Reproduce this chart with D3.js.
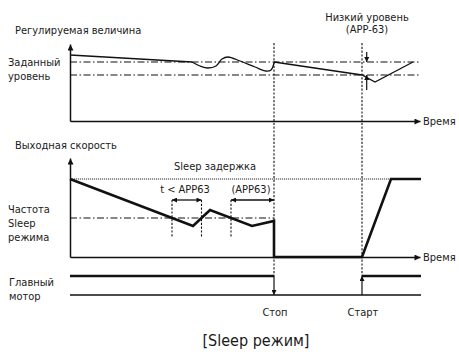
<!DOCTYPE html>
<html>
<head>
<meta charset="utf-8">
<script src="https://cdn.jsdelivr.net/npm/d3@7"></script>
<style>
  html, body { margin: 0; padding: 0; background: #fff; }
  svg text {
    font-family: "Liberation Sans Narrow", "DejaVu Sans Condensed", "Roboto", sans-serif;
    font-stretch: condensed;
    fill: #1a1a1a;
  }
</style>
</head>
<body>
<svg id="chart" width="459" height="355"></svg>
<script>
// ---- Data (time on a common 0..350 axis) ----
const timeDomain = [0, 350];
const stopTime = 204;   // motor stops
const startTime = 292;  // motor restarts

// Regulated value
const setLevel = 59;    // set point
const lowLevel = 46;    // low level (APP-63)
const regStart = [[0, 66], [122, 59]];
const regWave = [[122, 59], [130, 55], [138, 53], [146, 55], [152, 62], [158, 64],
                 [170, 60], [185, 54], [196, 50], [201, 51], [204, 58]];
const regEnd = [[204, 59], [292, 46], [305, 39], [343, 59]];

// Output speed
const maxSpeed = 78;
const sleepFreq = 39;
const speed = [[0, 78], [123, 31], [140, 47], [182, 31], [204, 36], [204, 0],
               [292, 0], [321, 78], [351, 78]];
const delay1 = [102, 131.5];   // t < APP63
const delay2 = [161, 204];     // (APP63)

// Main motor state
const motorOn = [[0, stopTime], [startTime, 351]];

// ---- Scales ----
const svg = d3.select("#chart");
const x = d3.scaleLinear().domain(timeDomain).range([70, 420]);
const yTop = d3.scaleLinear().domain([0, 76]).range([121, 45]);
const yMid = d3.scaleLinear().domain([0, 100]).range([257, 157]);
const yMotor = d3.scaleLinear().domain([0, 1]).range([295, 276]);

// Arrowhead markers
const defs = svg.append("defs");
defs.append("marker")
  .attr("id", "arrow")
  .attr("viewBox", "0 0 10 10")
  .attr("refX", 10).attr("refY", 5)
  .attr("markerUnits", "userSpaceOnUse")
  .attr("markerWidth", 8).attr("markerHeight", 6)
  .attr("orient", "auto-start-reverse")
  .append("path").attr("d", "M0,0L10,5L0,10z").attr("fill", "#111");
defs.append("marker")
  .attr("id", "arrowS")
  .attr("viewBox", "0 0 10 10")
  .attr("refX", 10).attr("refY", 5)
  .attr("markerUnits", "userSpaceOnUse")
  .attr("markerWidth", 6).attr("markerHeight", 5)
  .attr("orient", "auto-start-reverse")
  .append("path").attr("d", "M0,0L10,5L0,10z").attr("fill", "#111");

const DASHDOT = "7,2.5,1.5,2.5";
const DASH = "2.2,1.6";

// ---- Axes with arrows ----
function drawAxes(yScale, yAxisTop) {
  const gx = svg.append("g").attr("transform", `translate(0,${yScale.range()[0]})`)
    .call(d3.axisBottom(x).tickValues([]).tickSizeOuter(0));
  gx.select(".domain").attr("stroke", "#111").attr("stroke-width", 1.5)
    .attr("marker-end", "url(#arrow)");
  const gy = svg.append("g").attr("transform", `translate(${x(0)},0)`)
    .call(d3.axisLeft(d3.scaleLinear().range([yScale.range()[0], yAxisTop])).tickValues([]).tickSizeOuter(0));
  gy.select(".domain").attr("stroke", "#111").attr("stroke-width", 1.5)
    .attr("marker-end", "url(#arrow)");
}
drawAxes(yTop, 44);
drawAxes(yMid, 158);

// ---- Vertical dashed event lines ----
[stopTime, startTime].forEach(t => {
  svg.append("line")
    .attr("x1", x(t)).attr("x2", x(t))
    .attr("y1", 43).attr("y2", yMotor(1))
    .attr("stroke", "#111").attr("stroke-width", 1.1)
    .attr("stroke-dasharray", DASH);
});

// ---- Top panel: regulated value ----
[setLevel, lowLevel].forEach(v => {
  svg.append("line")
    .attr("x1", x(0)).attr("x2", x(349))
    .attr("y1", yTop(v)).attr("y2", yTop(v))
    .attr("stroke", "#111").attr("stroke-width", 1.1)
    .attr("stroke-dasharray", DASHDOT);
});
const lineTop = d3.line().x(d => x(d[0])).y(d => yTop(d[1]));
svg.append("path").datum(regStart).attr("d", lineTop)
  .attr("fill", "none").attr("stroke", "#111").attr("stroke-width", 1.3);
svg.append("path").datum(regWave).attr("d", lineTop.curve(d3.curveCatmullRom.alpha(0.5)))
  .attr("fill", "none").attr("stroke", "#111").attr("stroke-width", 1.3);
svg.append("path").datum(regEnd).attr("d", d3.line().x(d => x(d[0])).y(d => yTop(d[1])))
  .attr("fill", "none").attr("stroke", "#111").attr("stroke-width", 1.3);

// Low-level dimension marker
const mx = x(296.7);
svg.append("line").attr("x1", mx).attr("x2", mx).attr("y1", 52).attr("y2", yTop(setLevel))
  .attr("stroke", "#111").attr("stroke-width", 1.2).attr("marker-end", "url(#arrowS)");
svg.append("line").attr("x1", mx).attr("x2", mx).attr("y1", 90).attr("y2", yTop(lowLevel))
  .attr("stroke", "#111").attr("stroke-width", 1.2).attr("marker-end", "url(#arrowS)");

// ---- Middle panel: output speed ----
svg.append("line")
  .attr("x1", x(0)).attr("x2", x(321))
  .attr("y1", yMid(maxSpeed)).attr("y2", yMid(maxSpeed))
  .attr("stroke", "#333").attr("stroke-width", 1)
  .attr("stroke-dasharray", "1.2,0.8");
svg.append("line")
  .attr("x1", x(0)).attr("x2", x(stopTime))
  .attr("y1", yMid(sleepFreq)).attr("y2", yMid(sleepFreq))
  .attr("stroke", "#111").attr("stroke-width", 1.1)
  .attr("stroke-dasharray", DASHDOT);

// delay windows
[delay1, delay2].forEach(d => {
  const y0 = yMid(57);
  d.forEach(t => {
    if (t === stopTime) return;
    svg.append("line").attr("x1", x(t)).attr("x2", x(t))
      .attr("y1", y0).attr("y2", yMid(20))
      .attr("stroke", "#111").attr("stroke-width", 1.1).attr("stroke-dasharray", DASH);
  });
  svg.append("line").attr("x1", x(d[0])).attr("x2", x(d[1]))
    .attr("y1", y0).attr("y2", y0)
    .attr("stroke", "#111").attr("stroke-width", 1.3)
    .attr("marker-start", "url(#arrowS)").attr("marker-end", "url(#arrowS)");
});

svg.append("path").datum(speed)
  .attr("d", d3.line().x(d => x(d[0])).y(d => yMid(d[1])))
  .attr("fill", "none").attr("stroke", "#111").attr("stroke-width", 2.6)
  .attr("stroke-linejoin", "miter");

// ---- Bottom panel: main motor ----
svg.append("line").attr("x1", x(0)).attr("x2", x(351))
  .attr("y1", yMotor(0)).attr("y2", yMotor(0))
  .attr("stroke", "#111").attr("stroke-width", 1.5);
motorOn.forEach(seg => {
  svg.append("line").attr("x1", x(seg[0])).attr("x2", x(seg[1]))
    .attr("y1", yMotor(1)).attr("y2", yMotor(1))
    .attr("stroke", "#111").attr("stroke-width", 2.6);
});
svg.append("line").attr("x1", x(stopTime)).attr("x2", x(stopTime))
  .attr("y1", yMotor(1)).attr("y2", yMotor(0))
  .attr("stroke", "#111").attr("stroke-width", 1.2).attr("marker-end", "url(#arrowS)");
svg.append("line").attr("x1", x(startTime)).attr("x2", x(startTime))
  .attr("y1", yMotor(0)).attr("y2", yMotor(1))
  .attr("stroke", "#111").attr("stroke-width", 1.2).attr("marker-end", "url(#arrowS)");

// ---- Text ----
const labels = [
  { t: "Регулируемая величина", x: 15, y: 34, s: 11 },
  { t: "Заданный", x: 8, y: 66, s: 11 },
  { t: "уровень", x: 8, y: 80, s: 11 },
  { t: "Низкий уровень", x: 367, y: 21, s: 11, a: "middle" },
  { t: "(APP-63)", x: 367, y: 33, s: 11, a: "middle" },
  { t: "Время", x: 423, y: 125, s: 11 },
  { t: "Выходная скорость", x: 15, y: 149, s: 11 },
  { t: "Sleep задержка", x: 174, y: 170, s: 11 },
  { t: "t < APP63", x: 185, y: 193, s: 11, a: "middle" },
  { t: "(APP63)", x: 251, y: 193, s: 11, a: "middle" },
  { t: "Частота", x: 8, y: 213, s: 11 },
  { t: "Sleep", x: 8, y: 227, s: 11 },
  { t: "режима", x: 8, y: 241, s: 11 },
  { t: "Время", x: 423, y: 261, s: 11 },
  { t: "Главный", x: 9, y: 286, s: 11 },
  { t: "мотор", x: 9, y: 300, s: 11 },
  { t: "Стоп", x: 275, y: 316, s: 11, a: "middle" },
  { t: "Старт", x: 363, y: 316, s: 11, a: "middle" },
  { t: "[Sleep режим]", x: 256, y: 346, s: 16, a: "middle" }
];
svg.selectAll("text.lbl").data(labels).join("text")
  .attr("class", "lbl")
  .attr("x", d => d.x).attr("y", d => d.y)
  .attr("font-size", d => d.s)
  .attr("text-anchor", d => d.a || "start")
  .text(d => d.t);
</script>
</body>
</html>
